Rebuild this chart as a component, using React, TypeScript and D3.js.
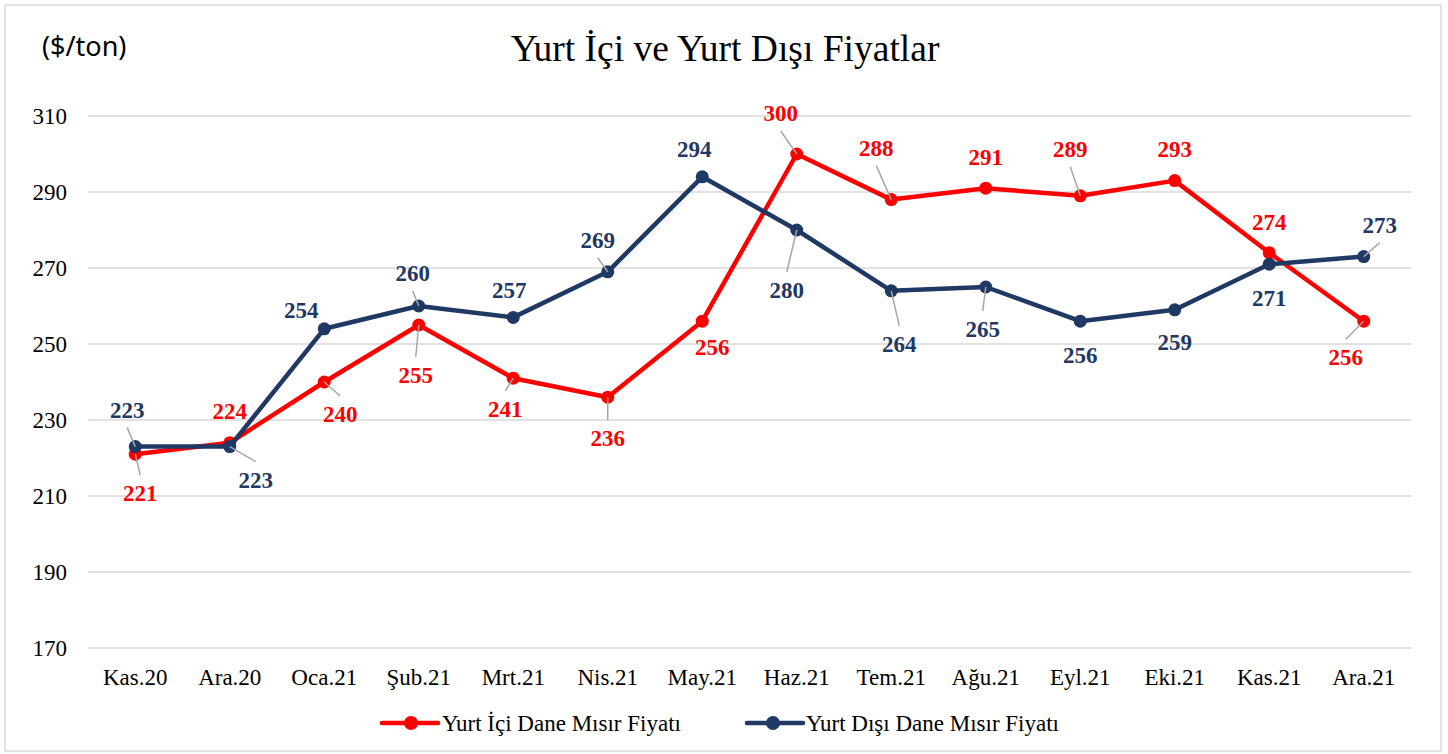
import React from 'react';
import * as d3 from 'd3';

const months = ['Kas.20', 'Ara.20', 'Oca.21', 'Şub.21', 'Mrt.21', 'Nis.21', 'May.21', 'Haz.21', 'Tem.21', 'Ağu.21', 'Eyl.21', 'Eki.21', 'Kas.21', 'Ara.21'];
const yurtIci = [221, 224, 240, 255, 241, 236, 256, 300, 288, 291, 289, 293, 274, 256];
const yurtDisi = [223, 223, 254, 260, 257, 269, 294, 280, 264, 265, 256, 259, 271, 273];
const yTicks = [170, 190, 210, 230, 250, 270, 290, 310];
const seriesNames = ['Yurt İçi Dane Mısır Fiyatı', 'Yurt Dışı Dane Mısır Fiyatı'];

// label placement, relative to each point: [dx, dy, has leader line]
const iciLabelPos: [number, number, boolean][] = [
  [5, 39, true], [0, -32, false], [16, 32, true], [-3, 50, true], [-8, 31, true], [0, 41, true], [10, 26, false],
  [-16, -41, true], [-15, -52, true], [0, -31, false], [-10, -47, true], [0, -32, false], [0, -31, false], [-18, 36, true],
];
const disiLabelPos: [number, number, boolean][] = [
  [-8, -37, true], [26, 33, true], [-23, -19, false], [-6, -33, true], [-4, -27, false], [-10, -32, true], [-8, -28, false],
  [-10, 60, true], [8, 53, true], [-3, 42, true], [0, 34, false], [0, 32, false], [0, 34, false], [16, -32, true],
];

const RED = '#FF0000';
const NAVY = '#1F3864';
const SERIF = '"Liberation Serif", "Times New Roman", serif';

const W = 1448;
const H = 754;
const plot = { left: 88, right: 1411, top: 116, bottom: 648 };

export default function App() {
  const x = d3.scaleBand<string>().domain(months).range([plot.left, plot.right]);
  const cx = (m: string) => (x(m) ?? 0) + x.bandwidth() / 2;
  const y = d3.scaleLinear().domain([170, 310]).range([plot.bottom, plot.top]);

  const line = d3.line<number>()
    .x((_, i) => cx(months[i]))
    .y(d => y(d));

  const series = [
    { name: seriesNames[0], values: yurtIci, color: RED, pos: iciLabelPos },
    { name: seriesNames[1], values: yurtDisi, color: NAVY, pos: disiLabelPos },
  ];

  return (
    <svg width={W} height={H} style={{ position: 'absolute', left: 0, top: 0, background: '#fff' }}>
      <rect x={5} y={5} width={1436} height={746} fill="#fff" stroke="#d9d9d9" strokeWidth={1.5} />

      <text x={725} y={61} textAnchor="middle" fontFamily={SERIF} fontSize={37.5} fill="#000">
        Yurt İçi ve Yurt Dışı Fiyatlar
      </text>
      <text x={42} y={56} fontFamily='"Noto Sans", sans-serif' fontSize={27} fill="#000">($/ton)</text>

      {yTicks.map(t => (
        <g key={t}>
          <line x1={plot.left} x2={plot.right} y1={y(t)} y2={y(t)} stroke="#d9d9d9" strokeWidth={1.5} />
          <text x={67} y={y(t)} dy="0.35em" textAnchor="end" fontFamily={SERIF} fontSize={23} fill="#000">{t}</text>
        </g>
      ))}

      {months.map(m => (
        <text key={m} x={cx(m)} y={685} textAnchor="middle" fontFamily={SERIF} fontSize={23} fill="#000">{m}</text>
      ))}

      {series.map(s => (
        <g key={s.name}>
          <path d={line(s.values) ?? ''} fill="none" stroke={s.color} strokeWidth={4.5} strokeLinejoin="round" />
          {s.values.map((v, i) => (
            <circle key={i} cx={cx(months[i])} cy={y(v)} r={6.5} fill={s.color} />
          ))}
        </g>
      ))}

      {series.map(s => (
        <g key={s.name + '-labels'}>
          {s.values.map((v, i) => {
            const [dx, dy, leader] = s.pos[i];
            const px = cx(months[i]);
            const py = y(v);
            const lx = px + dx;
            const ly = py + dy;
            return (
              <g key={i}>
                {leader && (
                  <line x1={px} y1={py} x2={lx} y2={ly - Math.sign(dy) * 18} stroke="#a6a6a6" strokeWidth={1.5} />
                )}
                <text x={lx} y={ly} dy="0.35em" textAnchor="middle" fontFamily={SERIF} fontSize={23}
                  fontWeight="bold" fill={s.color}>{v}</text>
              </g>
            );
          })}
        </g>
      ))}

      {/* legend */}
      <g>
        <line x1={382} x2={438} y1={723} y2={723} stroke={RED} strokeWidth={4.5} strokeLinecap="round" />
        <circle cx={411} cy={723} r={7} fill={RED} />
        <text x={442} y={731} fontFamily={SERIF} fontSize={23} fill="#000">{seriesNames[0]}</text>
        <line x1={747} x2={803} y1={723} y2={723} stroke={NAVY} strokeWidth={4.5} strokeLinecap="round" />
        <circle cx={773} cy={723} r={7} fill={NAVY} />
        <text x={806} y={731} fontFamily={SERIF} fontSize={23} fill="#000">{seriesNames[1]}</text>
      </g>
    </svg>
  );
}
